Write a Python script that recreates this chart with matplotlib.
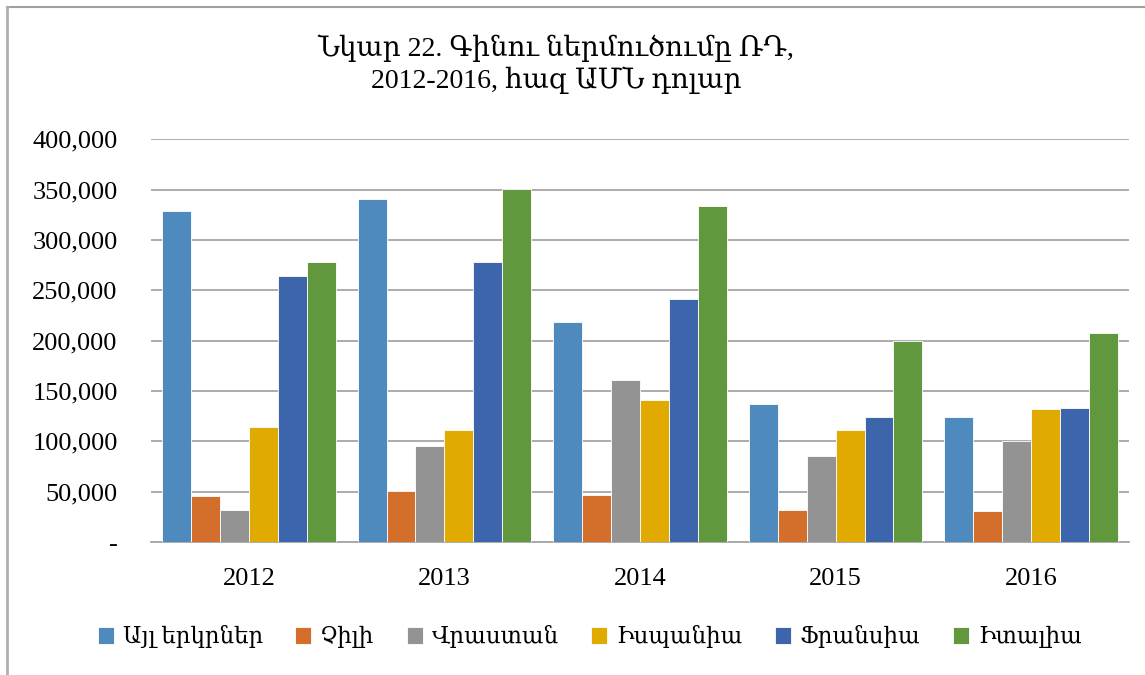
import numpy as np
import matplotlib
matplotlib.use("Agg")
import matplotlib.pyplot as plt
from matplotlib.ticker import FuncFormatter
from matplotlib.lines import Line2D

plt.rcParams['font.family'] = ['Liberation Serif', 'DejaVu Serif']

# data
years = ['2012', '2013', '2014', '2015', '2016']
series_names = ['Այլ երկրներ', 'Չիլի', 'Վրաստան', 'Իսպանիա', 'Ֆրանսիա', 'Իտալիա']
other = [329000, 340400, 218100, 137200, 124000]
chile = [46100, 50700, 46400, 31500, 30500]
georgia = [31500, 95100, 160700, 85900, 100100]
spain = [114300, 111700, 140900, 111000, 132200]
france = [264100, 277700, 240900, 124600, 132900]
italy = [278300, 350600, 334000, 199800, 207500]
colors = ['#4f8abe', '#d36f2b', '#939393', '#e0aa00', '#3c65ac', '#62983d']

title = 'Նկար 22. Գինու ներմուծումը ՌԴ,\n2012-2016, հազ ԱՄՆ դոլար'

fig = plt.figure(figsize=(11.45, 6.75), dpi=100)
ax = fig.add_axes([0.1319, 0.197, 0.8541, 0.5966])

data = [other, chile, georgia, spain, france, italy]
x = np.arange(len(years))
w = 0.148
for i, (vals, c, name) in enumerate(zip(data, colors, series_names)):
    ax.bar(x + (i - 2.5) * w, vals, w, color=c, edgecolor='white',
           linewidth=0.6, label=name, zorder=3)

ax.set_xlim(-0.5, 4.5)
ax.set_ylim(0, 400000)
ax.set_yticks(np.arange(0, 400001, 50000))
ax.yaxis.set_major_formatter(FuncFormatter(lambda v, p: '-' if v == 0 else f'{int(v):,}'))
ax.set_xticks(x)
ax.set_xticklabels(years)
ax.tick_params(axis='both', length=0, labelsize=19)
ax.tick_params(axis='x', pad=19)
ax.tick_params(axis='y', pad=24)
ax.grid(axis='y', color='#a6a6a6', linewidth=1.3, zorder=0)
for s in ['top', 'right', 'left']:
    ax.spines[s].set_visible(False)
ax.spines['bottom'].set_color('#a6a6a6')
ax.spines['bottom'].set_linewidth(1.3)

fig.text(0.486, 0.905, title, ha='center', va='center', fontsize=20,
         linespacing=1.2)

ax.legend(loc='center', bbox_to_anchor=(0.515, 1 - 637 / 675), bbox_transform=fig.transFigure,
          ncol=6, frameon=False, fontsize=16.5, handlelength=0.7, handleheight=0.7,
          handletextpad=0.4, columnspacing=1.4)

# chart frame (cropped)
fig.add_artist(Line2D([6.5 / 1145, 1], [1 - 7 / 675, 1 - 7 / 675],
                      transform=fig.transFigure, color='#a0a0a0', linewidth=1.5))
fig.add_artist(Line2D([6.5 / 1145, 6.5 / 1145], [0, 1 - 7 / 675],
                      transform=fig.transFigure, color='#b0b0b0', linewidth=2))

fig.savefig('out.png', dpi=100)
